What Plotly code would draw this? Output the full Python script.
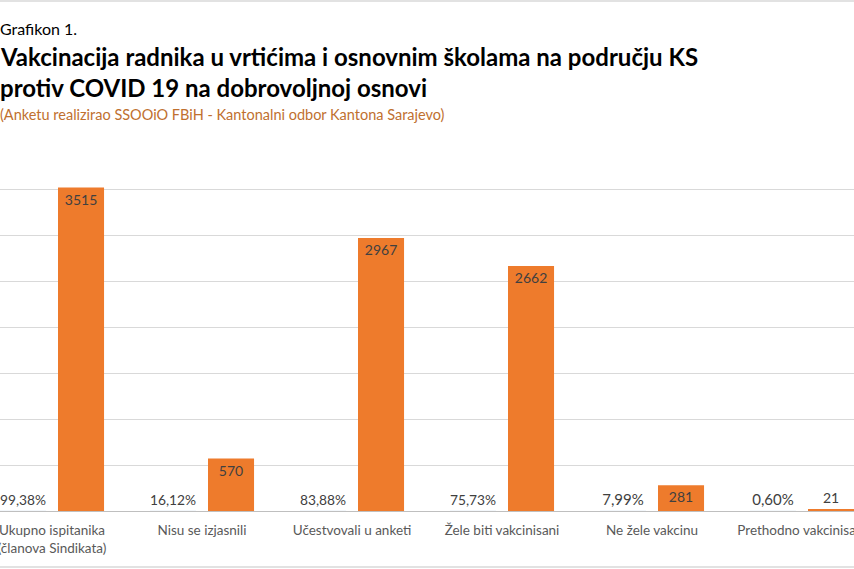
import plotly.graph_objects as go

categories = ["Ukupno ispitanika<br>(članova Sindikata)",
              "Nisu se izjasnili",
              "Učestvovali u anketi",
              "Žele biti vakcinisani",
              "Ne žele vakcinu",
              "Prethodno vakcinisani"]
percentages = [99.38, 16.12, 83.88, 75.73, 7.99, 0.60]
counts = [3515, 570, 2967, 2662, 281, 21]

pct_text = [f"{p:.2f}%".replace(".", ",") for p in percentages]
x_idx = list(range(len(categories)))

fig = go.Figure()

# percentage series: values are fractions, so the bars are flat on the baseline
fig.add_trace(go.Bar(x=x_idx, y=[p / 100 for p in percentages],
                     text=pct_text, textposition="outside",
                     outsidetextfont=dict(color="#404040", size=15),
                     marker_color="#ED7D31", width=0.307, offset=-0.347,
                     cliponaxis=False, hoverinfo="skip"))

fig.add_trace(go.Bar(x=x_idx, y=counts,
                     text=[str(c) for c in counts], textposition="auto",
                     insidetextfont=dict(color="#404040", size=14),
                     outsidetextfont=dict(color="#404040", size=14),
                     marker=dict(color="#EE7B2C", line=dict(width=0)),
                     width=0.307, offset=0.04, cliponaxis=False))

x0 = 0.001
fig.add_annotation(text="Grafikon 1.", x=x0, y=28, xref="paper", yref="paper",
                   xanchor="left", yanchor="middle", showarrow=False, xshift=-3,
                   font=dict(size=16, color="#000000"))
fig.add_annotation(text="<b>Vakcinacija radnika u vrtićima i osnovnim školama na području KS</b>",
                   x=x0, y=57, xref="paper", yref="paper", xanchor="left",
                   yanchor="middle", showarrow=False, xshift=-3,
                   font=dict(size=24, color="#000000"))
fig.add_annotation(text="<b>protiv COVID 19 na dobrovoljnoj osnovi</b>",
                   x=x0, y=87, xref="paper", yref="paper", xanchor="left",
                   yanchor="middle", showarrow=False, xshift=-3,
                   font=dict(size=24, color="#000000"))
fig.add_annotation(text="(Anketu realizirao SSOOiO FBiH - Kantonalni odbor Kantona Sarajevo)",
                   x=x0, y=114, xref="paper", yref="paper", xanchor="left",
                   yanchor="middle", showarrow=False, xshift=-3,
                   font=dict(size=14.5, color="#C0702F"))

# annotation y above were written in pixels; convert to paper units
for a in fig.layout.annotations:
    a.y = (511 - a.y) / 368

fig.add_shape(type="line", xref="paper", yref="paper", x0=0, x1=1,
              y0=(511 - 1) / 368, y1=(511 - 1) / 368,
              line=dict(color="#D9D9D9", width=1.5))
fig.add_shape(type="line", xref="paper", yref="paper", x0=0, x1=1,
              y0=(511 - 567) / 368, y1=(511 - 567) / 368,
              line=dict(color="#D9D9D9", width=1.5))

fig.update_layout(
    width=854, height=569,
    margin=dict(l=0, r=0, t=143, b=58, autoexpand=False),
    paper_bgcolor="white", plot_bgcolor="white",
    showlegend=False, barmode="overlay",
    font=dict(family="Lato", color="#595959"),
)
fig.update_xaxes(tickmode="array", tickvals=x_idx, ticktext=categories,
                 range=[-0.3467, 5.3467], showline=True, linecolor="#BFBFBF",
                 linewidth=1, ticks="", tickfont=dict(size=13.5, color="#595959"),
                 ticklabelstandoff=7, ticklabeloverflow="allow",
                 automargin=False, showgrid=False)
fig.update_yaxes(range=[0, 4000], dtick=500, showgrid=True, gridcolor="#D9D9D9",
                 gridwidth=1, showticklabels=False, zeroline=False, ticks="",
                 automargin=False)

# page body has a default 8px margin; drop it so the chart sits at the window corner
fig.write_html("out.html", config={"displayModeBar": False},
               post_script="document.body.style.margin='0';")
